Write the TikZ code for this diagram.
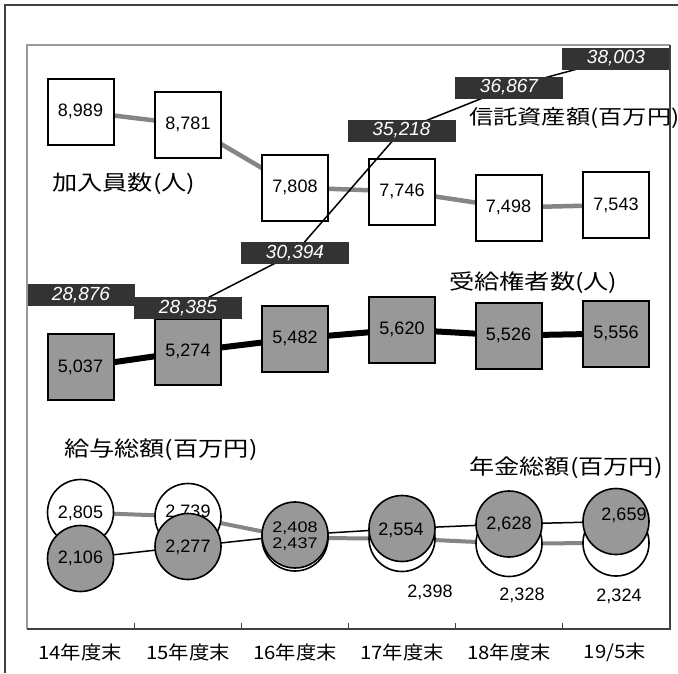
\documentclass[tikz,border=0pt]{standalone}
\usepackage{fontspec}
\setmainfont{Liberation Sans}
\newfontfamily\jp{Noto Sans CJK JP}
\newcommand{\wjp}[1]{\scalebox{1.2}[1]{#1}}
\newcommand{\wxl}[1]{\scalebox{1.1}[1]{#1}}
\newcommand{\squash}[1]{\scalebox{1}[0.85]{#1}}
\definecolor{fillg}{HTML}{989898}
\definecolor{darkl}{HTML}{333333}
\definecolor{lineg}{HTML}{858585}
\definecolor{frameg}{HTML}{9A9A9A}
\definecolor{framed}{HTML}{404040}
\tikzset{
  sqw/.style={draw=black, line width=2pt, fill=white, minimum size=66pt, inner sep=0pt, font=\fontsize{18}{18}\selectfont},
  sqg/.style={sqw, fill=fillg},
  dlab/.style={fill=darkl, minimum width=108pt, minimum height=22pt, inner sep=0pt, text=white, font=\fontsize{19}{19}\selectfont\itshape},
  cw/.style={circle, draw=black, line width=1.6pt, fill=white, minimum size=66pt, inner sep=0pt},
  cg/.style={cw, fill=fillg},
  num/.style={inner sep=0pt, font=\fontsize{18}{18}\selectfont},
  jlab/.style={inner sep=0pt, anchor=west, font=\jp\fontsize{21}{21}\selectfont},
  xlab/.style={inner sep=0pt, font=\jp\fontsize{18.5}{18.5}\selectfont},
  gline/.style={draw=lineg, line width=4.5pt},
  bline/.style={draw=black, line width=6pt},
  thin/.style={draw=black, line width=1.5pt},
}
\begin{document}
\begin{tikzpicture}[x=1pt,y=-1pt]
\clip (0,0) rectangle (678,673);
\fill[white] (0,0) rectangle (678,673);
% outer frame
\draw[framed, line width=1.5pt] (5,673) -- (5,5) -- (678,5);
% x labels
\node[xlab] (x1) at (80,652) {\wxl{14年度末}};
\node[xlab] (x2) at (188,652) {\wxl{15年度末}};
\node[xlab] (x3) at (295,652) {\wxl{16年度末}};
\node[xlab] (x4) at (402,652) {\wxl{17年度末}};
\node[xlab] (x5) at (509,652) {\wxl{18年度末}};
\node[xlab] (x6) at (615,652) {\wxl{19/5末}};

% coordinates
\coordinate (pa1) at (80.5,111.5);
\coordinate (pa2) at (188,124.5);
\coordinate (pa3) at (295,187.5);
\coordinate (pa4) at (402,191.5);
\coordinate (pa5) at (508.5,207.5);
\coordinate (pa6) at (616,205);
\coordinate (pb1) at (80.5,367);
\coordinate (pb2) at (188,351.5);
\coordinate (pb3) at (295,338.5);
\coordinate (pb4) at (402,329.5);
\coordinate (pb5) at (508.5,335.5);
\coordinate (pb6) at (616,333.5);
\coordinate (pt1) at (81,295);
\coordinate (pt2) at (188,308);
\coordinate (pt3) at (295,253);
\coordinate (pt4) at (401.5,130.5);
\coordinate (pt5) at (509,87.5);
\coordinate (pt6) at (616,58.5);
\coordinate (pw1) at (80.5,512.5);
\coordinate (pw2) at (188,516.5);
\coordinate (pw3) at (295,538);
\coordinate (pw4) at (402,538.5);
\coordinate (pw5) at (509,543.5);
\coordinate (pw6) at (616,543);
\coordinate (pg1) at (80.5,558.5);
\coordinate (pg2) at (188,546.5);
\coordinate (pg3) at (295,535);
\coordinate (pg4) at (402,528.5);
\coordinate (pg5) at (509,524);
\coordinate (pg6) at (616,521.5);

% 加入員数
\draw[gline] (pa1) -- (pa2) -- (pa3) -- (pa4) -- (pa5) -- (pa6);
\foreach \i/\v in {1/8{,}989,2/8{,}781,3/7{,}808,4/7{,}746,5/7{,}498,6/7{,}543}
  \node[sqw] (a\i) at (pa\i) {\v};
% 受給権者数
\draw[bline] (pb1) -- (pb2) -- (pb3) -- (pb4) -- (pb5) -- (pb6);
\foreach \i/\v in {1/5{,}037,2/5{,}274,3/5{,}482,4/5{,}620,5/5{,}526,6/5{,}556}
  \node[sqg] (b\i) at (pb\i) {\v};
% 信託資産額
\draw[thin] (pt1) -- (pt2) -- (pt3) -- (pt4) -- (pt5) -- (pt6);
\foreach \i/\v in {1/28{,}876,2/28{,}385,3/30{,}394,4/35{,}218,5/36{,}867,6/38{,}003}
  \node[dlab] (t\i) at (pt\i) {\v};

% series labels
\node[jlab] (la) at (52,184) {\wjp{加入員数(人)}};
\node[jlab, font=\jp\fontsize{20.2}{20.2}\selectfont] (lt) at (469,118) {\wjp{信託資産額(百万円)}};
\node[jlab] (lb) at (449,283) {\wjp{受給権者数(人)}};
\node[jlab] (lw) at (64,450) {\wjp{給与総額(百万円)}};
\node[jlab] (lg) at (469,468) {\wjp{年金総額(百万円)}};

% 給与総額 (white circles)
\draw[gline, line width=4pt] (pw1) -- (pw2) -- (pw3) -- (pw4) -- (pw5) -- (pw6);
\foreach \i in {1,...,6} \node[cw] (w\i) at (pw\i) {};
\node[num] (nw1) at (80.5,513) {2,805};
\node[num] (nw2) at (188,512) {2,739};
% 年金総額 (gray circles)
\draw[thin] (pg1) -- (pg2) -- (pg3) -- (pg4) -- (pg5) -- (pg6);
\foreach \i in {1,...,6} \node[cg] (g\i) at (pg\i) {};
\node[num] (ng1) at (80.5,558) {2,106};
\node[num] (ng2) at (188,547) {2,277};
\node[num] (ng3) at (295,528) {\squash{2,408}};
\node[num] (nw3) at (295,544) {\squash{2,437}};
\node[num] (ng4) at (401,530) {2,554};
\node[num] (ng5) at (509,524) {2,628};
\node[num] (ng6) at (624,515) {2,659};
\node[num] (nw4) at (430,592) {2,398};
\node[num] (nw5) at (522,595) {2,328};
\node[num] (nw6) at (619,596) {2,324};

% plot area frame (on top)
\draw[frameg, line width=1.2pt] (27,629) -- (27,45) -- (670,45);
\draw[framed, line width=1.5pt] (670,45) -- (670,629) -- (27,629);
\foreach \x in {134,241,348,455,562} \draw[framed, line width=1pt] (\x,629) -- (\x,623);
\end{tikzpicture}
\end{document}
